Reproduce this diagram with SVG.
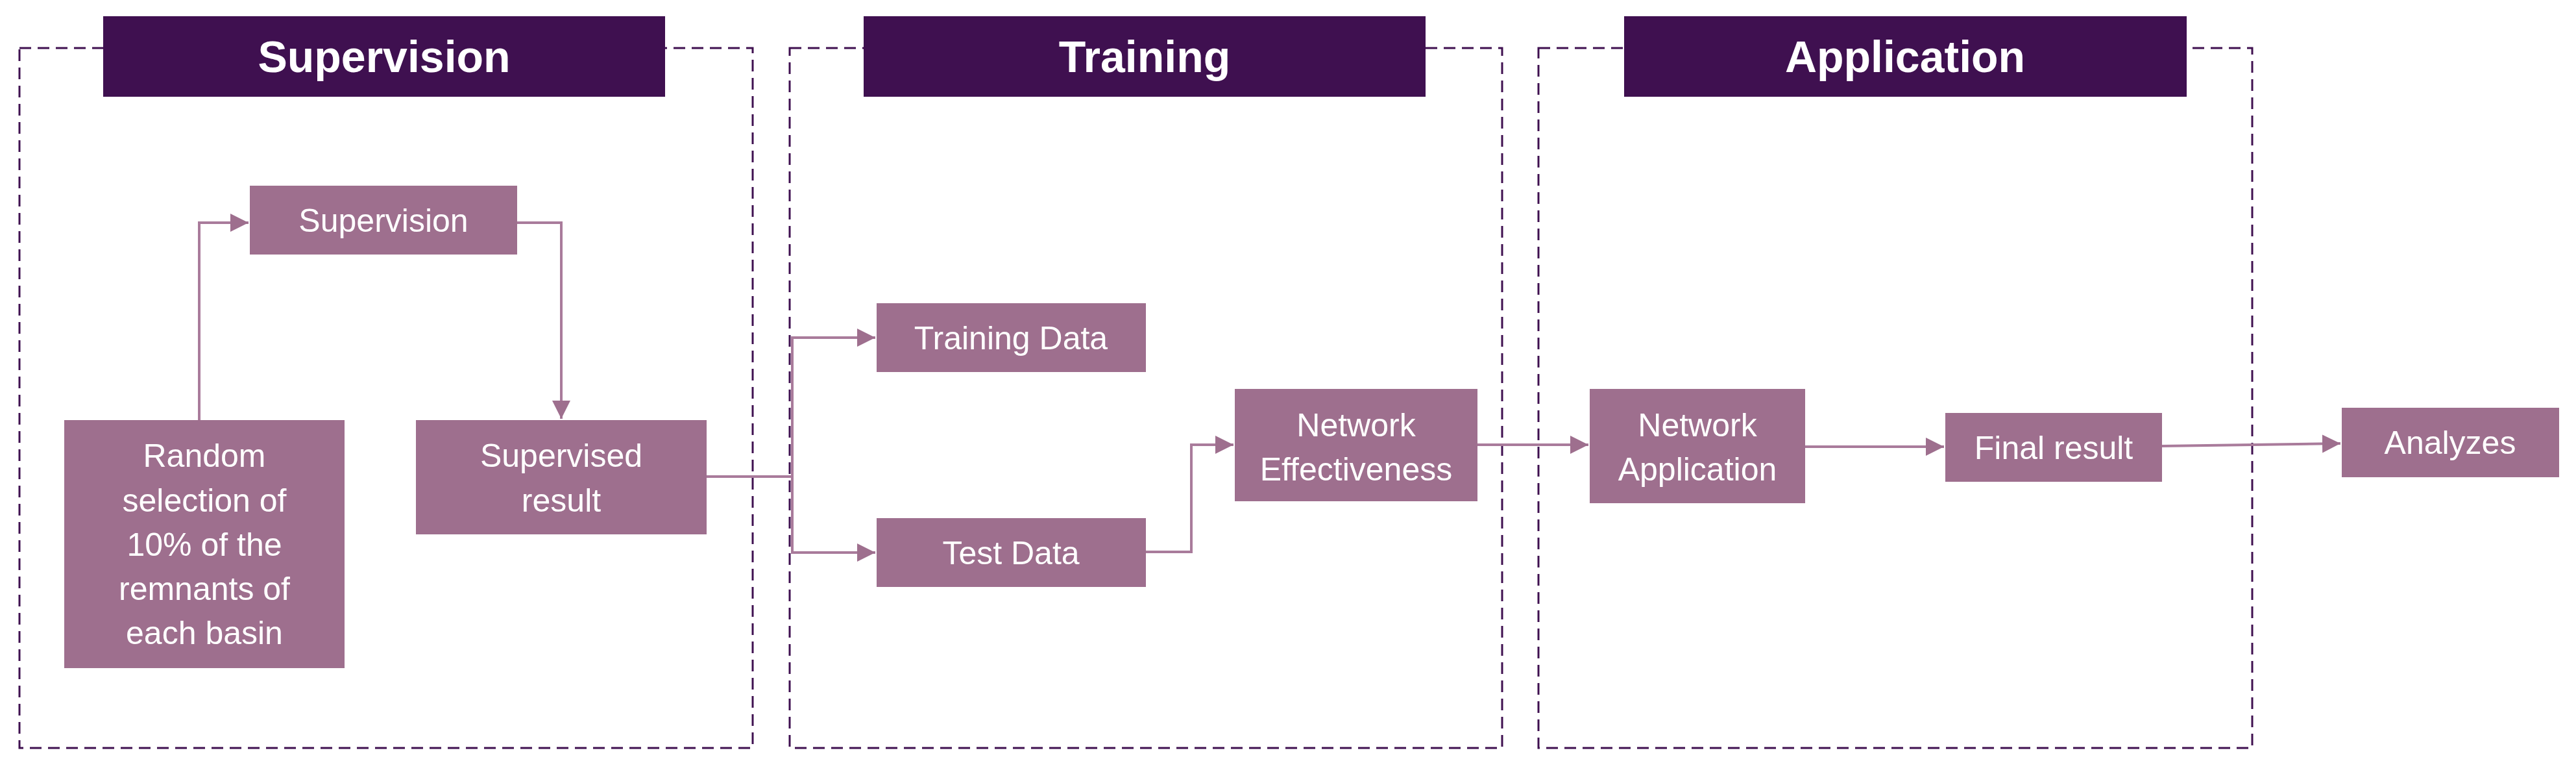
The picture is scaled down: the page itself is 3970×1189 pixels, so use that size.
<svg xmlns="http://www.w3.org/2000/svg" width="3970" height="1189" viewBox="0 0 3970 1189">
<defs>
<style>
.frame{fill:none;stroke:#3F1050;stroke-width:3;stroke-dasharray:18 10}
.hdr{fill:#3F1050}
.ht{font-family:"Liberation Sans",Arial,sans-serif;font-weight:bold;font-size:68px;fill:#fff;text-anchor:middle}
.nd{fill:#9E6F8E}
.nt{font-family:"Liberation Sans",Arial,sans-serif;font-size:50px;fill:#fff;text-anchor:middle}
.ln{fill:none;stroke:#A97B9B;stroke-width:4;marker-end:url(#ah)}
.ln2{fill:none;stroke:#A97B9B;stroke-width:4}
</style>
<marker id="ah" markerWidth="8" markerHeight="8" refX="7" refY="4" orient="auto" markerUnits="strokeWidth"><path d="M0,0.5 L7,4 L0,7.5 Z" fill="#9E6F8E"/></marker>
</defs>
<rect width="3970" height="1189" fill="#fff"/>
<g id="frames">
<rect class="frame" x="30" y="74" width="1130" height="1078"/>
<rect class="frame" x="1217" y="74" width="1098" height="1078"/>
<rect class="frame" x="2371" y="74" width="1100" height="1078"/>
</g>
<g id="hdr-supervision"><rect class="hdr" x="159" y="25" width="866" height="124"/><text class="ht" x="592" y="111">Supervision</text></g>
<g id="hdr-training"><rect class="hdr" x="1331" y="25" width="866" height="124"/><text class="ht" x="1764" y="111">Training</text></g>
<g id="hdr-application"><rect class="hdr" x="2503" y="25" width="867" height="124"/><text class="ht" x="2936" y="111">Application</text></g>
<g id="connectors">
<path class="ln" d="M307,647 V343 H383"/>
<path class="ln" d="M797,343 H865 V645"/>
<path class="ln2" d="M1089,734 H1221"/>
<path class="ln" d="M1221,734 V520 H1349"/>
<path class="ln" d="M1221,734 V851 H1349"/>
<path class="ln" d="M1766,850 H1836 V685 H1901"/>
<path class="ln" d="M2277,685 H2448"/>
<path class="ln" d="M2782,688 H2996"/>
<path class="ln" d="M3332,687 L3607,683"/>
</g>
<g id="n-supervision"><rect class="nd" x="385" y="286" width="412" height="106"/><text class="nt" x="591" y="357">Supervision</text></g>
<g id="n-random"><rect class="nd" x="99" y="647" width="432" height="382"/>
<text class="nt" x="315" y="719">Random</text><text class="nt" x="315" y="788">selection of</text><text class="nt" x="315" y="856">10% of the</text><text class="nt" x="315" y="924">remnants of</text><text class="nt" x="315" y="992">each basin</text></g>
<g id="n-supervised"><rect class="nd" x="641" y="647" width="448" height="176"/><text class="nt" x="865" y="719">Supervised</text><text class="nt" x="865" y="788">result</text></g>
<g id="n-training"><rect class="nd" x="1351" y="467" width="415" height="106"/><text class="nt" x="1558" y="538">Training Data</text></g>
<g id="n-test"><rect class="nd" x="1351" y="798" width="415" height="106"/><text class="nt" x="1558" y="869">Test Data</text></g>
<g id="n-effect"><rect class="nd" x="1903" y="599" width="374" height="173"/><text class="nt" x="2090" y="672">Network</text><text class="nt" x="2090" y="740">Effectiveness</text></g>
<g id="n-app"><rect class="nd" x="2450" y="599" width="332" height="176"/><text class="nt" x="2616" y="672">Network</text><text class="nt" x="2616" y="740">Application</text></g>
<g id="n-final"><rect class="nd" x="2998" y="636" width="334" height="106"/><text class="nt" x="3165" y="707">Final result</text></g>
<g id="n-analyzes"><rect class="nd" x="3609" y="628" width="335" height="107"/><text class="nt" x="3776" y="699">Analyzes</text></g>
</svg>
